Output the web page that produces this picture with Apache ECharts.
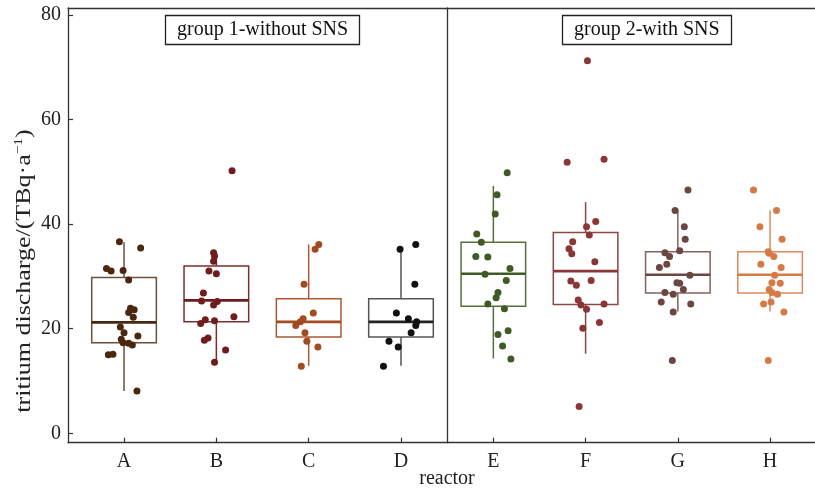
<!DOCTYPE html>
<html>
<head>
<meta charset="utf-8">
<script src="https://cdn.jsdelivr.net/npm/echarts@6/dist/echarts.min.js"></script>
<style>
  html, body { margin: 0; padding: 0; background: #fff; }
  #chart { width: 815px; height: 488px; }
</style>
</head>
<body>
<div id="chart"></div>
<script>
const categories = ['A', 'B', 'C', 'D', 'E', 'F', 'G', 'H'];
const groupNames = ['group 1-without SNS', 'group 2-with SNS'];
const yTicks = [0, 20, 40, 60, 80];

// box statistics per reactor (A..H)
const boxMin    = [8.1, 13.6, 12.9, 12.9, 14.3, 15.2, 23.3, 23.3];
const boxQ1     = [17.3, 21.3, 18.4, 18.4, 24.3, 24.6, 26.8, 26.8];
const boxMedian = [21.2, 25.4, 21.3, 21.3, 30.5, 31.0, 30.3, 30.3];
const boxQ3     = [29.8, 32.0, 25.7, 25.7, 36.5, 38.4, 34.7, 34.7];
const boxMax    = [36.5, 34.4, 36.1, 35.4, 47.3, 44.2, 42.6, 42.6];

// jittered points: [offset from category centre, value]
const pointsA = [[-0.05, 36.6], [0.18, 35.4], [-0.19, 31.5], [-0.14, 31.0], [-0.01, 31.1], [0.05, 29.3],
  [0.07, 23.9], [0.11, 23.6], [0.05, 23.1], [0.10, 22.2], [-0.04, 20.3], [0.0, 19.2], [0.15, 18.6],
  [-0.03, 18.0], [-0.01, 17.3], [0.05, 17.2], [0.09, 16.9], [-0.17, 15.0], [-0.12, 15.1], [0.14, 8.1]];
const pointsB = [[-0.03, 34.5], [-0.02, 33.9], [-0.03, 32.9], [-0.08, 31.0], [0.0, 30.5], [-0.14, 26.8],
  [-0.16, 25.3], [0.01, 25.2], [-0.03, 24.5], [0.19, 22.3], [-0.12, 21.7], [-0.02, 21.5], [-0.17, 21.0],
  [-0.13, 17.8], [-0.09, 18.2], [0.10, 15.9], [-0.02, 13.6], [0.17, 50.2]];
const pointsC = [[0.11, 36.1], [0.07, 35.2], [-0.05, 28.5], [0.05, 23.0], [-0.06, 21.9], [-0.09, 21.3],
  [-0.14, 20.6], [-0.04, 19.2], [-0.02, 17.6], [0.10, 16.5], [-0.08, 12.8]];
const pointsD = [[-0.01, 35.2], [0.16, 36.1], [0.15, 28.5], [-0.05, 23.0], [0.08, 21.9], [0.17, 21.3],
  [0.16, 20.6], [0.11, 19.2], [-0.13, 17.6], [-0.03, 16.5], [-0.19, 12.8]];
const pointsE = [[0.15, 49.8], [0.04, 45.6], [0.02, 41.9], [-0.18, 38.1], [-0.13, 36.5], [-0.19, 33.8],
  [-0.06, 33.7], [0.18, 31.5], [-0.09, 30.4], [0.14, 29.2], [0.05, 26.9], [0.03, 25.9], [-0.06, 24.7],
  [0.12, 23.8], [0.16, 19.6], [0.05, 18.9], [0.10, 16.7], [0.19, 14.2]];
const pointsF = [[-0.20, 51.8], [0.20, 52.4], [0.11, 40.5], [0.01, 39.5], [0.04, 37.9], [-0.14, 36.6],
  [-0.18, 35.3], [-0.15, 34.3], [0.10, 32.8], [-0.16, 29.1], [0.06, 29.2], [-0.10, 28.3], [-0.08, 25.5],
  [-0.05, 24.5], [0.20, 24.7], [0.01, 23.7], [0.15, 21.2], [-0.03, 20.1], [-0.07, 5.1], [0.02, 71.2]];
const pointsG = [[0.11, 46.5], [-0.03, 42.6], [0.07, 39.5], [0.08, 37.1], [0.02, 34.9], [-0.14, 34.5],
  [-0.09, 33.8], [-0.12, 32.3], [-0.20, 31.7], [0.13, 30.2], [-0.01, 28.8], [0.02, 28.7], [0.06, 27.5],
  [-0.14, 26.9], [-0.05, 26.6], [-0.18, 25.1], [0.14, 24.7], [-0.05, 23.2], [-0.06, 13.9]];
const pointsH = [[-0.18, 46.5], [0.07, 42.6], [-0.11, 39.5], [0.13, 37.1], [-0.02, 34.7], [-0.01, 34.4],
  [0.04, 33.8], [-0.10, 32.3], [0.12, 31.7], [0.05, 30.2], [0.02, 28.8], [0.11, 28.7], [-0.01, 27.5],
  [0.02, 26.9], [0.08, 26.6], [0.01, 25.1], [-0.07, 24.7], [0.15, 23.2], [-0.02, 13.9]];
const allPoints = [pointsA, pointsB, pointsC, pointsD, pointsE, pointsF, pointsG, pointsH];

const pointColors = ['#4a2810', '#6e1c1c', '#a34b20', '#111111', '#3f5a24', '#8b3636', '#6b4642', '#d57a45'];
const boxColors   = ['#6e5038', '#7a2e2e', '#a85a30', '#555555', '#56703c', '#8f4545', '#85625f', '#da8a5c'];
const medianColors = ['#4a2810', '#6e1c1c', '#a34b20', '#222222', '#3f5a24', '#8b3636', '#6b4642', '#d57a45'];

const serif = 'Liberation Serif';
const chart = echarts.init(document.getElementById('chart'));

function renderBox(params, api) {
  const x = api.value(0);
  const ci = api.value(6);
  const top = api.coord([x, api.value(5)]);
  const q3 = api.coord([x, api.value(4)]);
  const med = api.coord([x, api.value(3)]);
  const q1 = api.coord([x, api.value(2)]);
  const bot = api.coord([x, api.value(1)]);
  const half = api.size([0.7, 0])[0] / 2;
  const c = boxColors[ci];
  return {
    type: 'group',
    children: [
      { type: 'line', shape: { x1: top[0], y1: top[1], x2: q3[0], y2: q3[1] }, style: { stroke: c, lineWidth: 1.5 } },
      { type: 'line', shape: { x1: q1[0], y1: q1[1], x2: bot[0], y2: bot[1] }, style: { stroke: c, lineWidth: 1.5 } },
      { type: 'rect', shape: { x: q3[0] - half, y: q3[1], width: half * 2, height: q1[1] - q3[1] },
        style: { fill: 'rgba(255,255,255,0)', stroke: c, lineWidth: 1.5 } },
      { type: 'line', shape: { x1: med[0] - half, y1: med[1], x2: med[0] + half, y2: med[1] },
        style: { stroke: medianColors[ci], lineWidth: 2.6 } }
    ]
  };
}

const grids = [
  { left: 68, top: 8, width: 379.7, height: 434.7 },
  { left: 447.7, top: 8, width: 367.3, height: 434.7 }
];
const xRanges = [[0.393, 4.506], [0.505, 4.487]];

const axisLine = { show: true, onZero: false, lineStyle: { color: '#333', width: 1.3 } };
const xAxes = [];
[0, 1].forEach(g => {
  xAxes.push({
    type: 'value', gridIndex: g, min: xRanges[g][0], max: xRanges[g][1],
    axisLine: axisLine,
    axisTick: { show: true, inside: true, length: 5, customValues: [1, 2, 3, 4], lineStyle: { color: '#333', width: 1.2 } },
    axisLabel: {
      customValues: [1, 2, 3, 4], margin: 9, color: '#222', fontFamily: serif, fontSize: 20,
      formatter: v => categories[g * 4 + Math.round(v) - 1]
    },
    splitLine: { show: false }
  });
});
// top frame line of each panel
[0, 1].forEach(g => {
  xAxes.push({
    type: 'value', gridIndex: g, position: 'top', min: xRanges[g][0], max: xRanges[g][1],
    axisLine: axisLine, axisTick: { show: false }, axisLabel: { show: false }, splitLine: { show: false }
  });
});
const yAxes = [0, 1].map(g => ({
  type: 'value', gridIndex: g, min: -1.8, max: 81.3,
  axisLine: axisLine,
  axisTick: { show: g === 0, inside: true, length: 5, customValues: yTicks, lineStyle: { color: '#333', width: 1.2 } },
  axisLabel: { show: g === 0, customValues: yTicks, margin: 7, color: '#222', fontFamily: serif, fontSize: 20 },
  splitLine: { show: false }
}));

const series = [];
[0, 1].forEach(g => {
  const data = [];
  for (let k = 0; k < 4; k++) {
    const i = g * 4 + k;
    data.push([k + 1, boxMin[i], boxQ1[i], boxMedian[i], boxQ3[i], boxMax[i], i]);
  }
  series.push({
    type: 'custom', xAxisIndex: g, yAxisIndex: g, renderItem: renderBox,
    encode: { x: 0, y: [1, 2, 3, 4, 5] }, data: data, z: 2
  });
});
allPoints.forEach((pts, i) => {
  const g = i < 4 ? 0 : 1;
  const cx = (i % 4) + 1;
  series.push({
    type: 'scatter', xAxisIndex: g, yAxisIndex: g, symbolSize: 7, z: 3,
    itemStyle: { color: pointColors[i], opacity: 1 },
    data: pts.map(p => [cx + p[0], p[1]])
  });
});

const stripStyle = { fontFamily: serif, fontSize: 20, fontWeight: 'normal', color: '#111', lineHeight: 22 };
const option = {
  animation: false,
  backgroundColor: '#fff',
  grid: grids,
  xAxis: xAxes,
  yAxis: yAxes,
  title: [
    { text: groupNames[0], left: 165, top: 15, padding: [4, 12], borderWidth: 1.3, borderColor: '#222', textStyle: stripStyle },
    { text: groupNames[1], left: 562, top: 15, padding: [4, 12], borderWidth: 1.3, borderColor: '#222', textStyle: stripStyle }
  ],
  graphic: [
    {
      type: 'text', x: 24, y: 271, rotation: Math.PI / 2, scaleX: 1.18,
      style: {
        text: '{a|tritium discharge/(TBq·a}{s|−1}{a|)}',
        align: 'center', verticalAlign: 'middle', fill: '#222',
        rich: {
          a: { fontFamily: serif, fontSize: 22, lineHeight: 24, fill: '#222' },
          s: { fontFamily: serif, fontSize: 13, lineHeight: 24, verticalAlign: 'top', fill: '#222' }
        }
      }
    },
    {
      type: 'text', x: 447, y: 479,
      style: { text: 'reactor', align: 'center', verticalAlign: 'middle', fontFamily: serif, fontSize: 20, fill: '#222' }
    }
  ],
  series: series
};
chart.setOption(option);
</script>
</body>
</html>
